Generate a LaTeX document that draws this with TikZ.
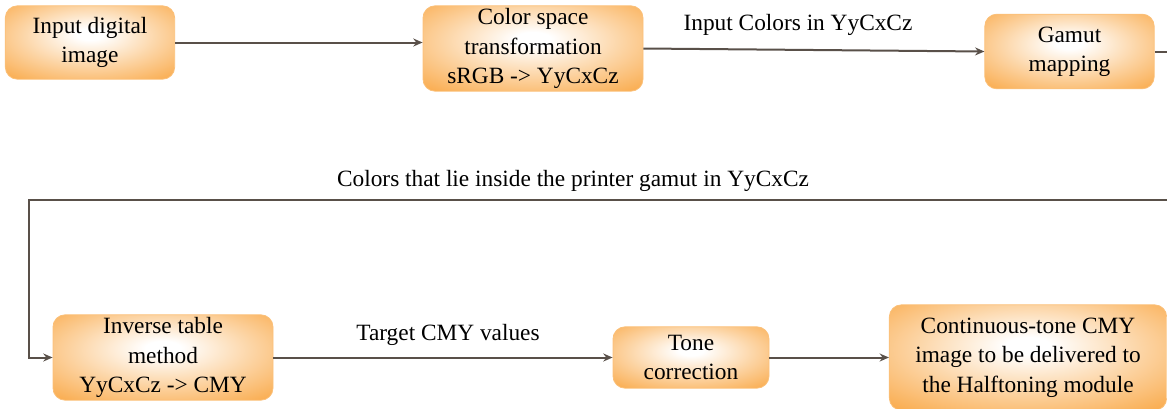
\documentclass[tikz,border=0pt]{standalone}
\usepackage{fontspec}
\setmainfont{Liberation Serif}
\usepackage{xcolor}
\usetikzlibrary{arrows.meta}

\definecolor{boxorange}{RGB}{248,150,32}
\definecolor{flowgray}{RGB}{89,80,73}
\pgfdeclareradialshading{boxglow}{\pgfpoint{0bp}{6bp}}{%
  color(0bp)=(white); color(4bp)=(white); color(21bp)=(boxorange!42);
  color(37bp)=(boxorange!80); color(50bp)=(boxorange); color(72bp)=(boxorange)}

\tikzset{
  procbox/.style={draw=boxorange!60, line width=0.6pt, rounded corners=9pt,
    shading=boxglow, align=center, inner sep=1pt,
    font=\fontsize{17.5}{22}\selectfont},
  flow/.style={draw=flowgray, line width=1.5pt,
    -{Stealth[length=7pt,width=6pt]}},
  flowlabel/.style={font=\fontsize{17.5}{22}\selectfont}
}

\begin{document}
\begin{tikzpicture}[x=0.75pt,y=-0.75pt]
	\useasboundingbox (0,0) rectangle (1167,408);

	% first row
	\node[procbox, minimum width=127pt, minimum height=55pt] (input) at (90,42.5)
		{Input digital\\image};
	\node[procbox, minimum width=165pt, minimum height=64pt] (cst) at (533,48.5)
		{Color space\\transformation\\sRGB -{}> YyCxCz};
	\node[procbox, minimum width=127pt, minimum height=56pt] (gamut) at (1069.5,51.5)
		{Gamut\\mapping};

	% second row
	\node[procbox, minimum width=165pt, minimum height=64pt] (inverse) at (163,357.5)
		{Inverse table\\method\\YyCxCz -{}> CMY};
	\node[procbox, minimum width=117pt, minimum height=46pt] (tone) at (691,357.5)
		{Tone\\correction};
	\node[procbox, minimum width=208pt, minimum height=79pt] (halftone) at (1028,357.5)
		{Continuous-tone CMY\\image to be delivered to\\the Halftoning module};

	% loop back from gamut mapping
	\coordinate (loopR) at (1195,200);
	\coordinate (loopL) at (29,200);

	\draw[flow] (input.east) -- (input.east -| cst.west);
	\draw[flow] (cst.east) -- (gamut.west);
	\draw[flow] (gamut.east) -| (loopR) -- (loopL) |- (inverse.west);
	\draw[flow] (inverse) -- (tone);
	\draw[flow] (tone) -- (halftone);

	\node[flowlabel] (lblyy) at (798,25) {Input Colors in YyCxCz};
	\node[flowlabel] (lblgamut) at (573,181) {Colors that lie inside the printer gamut in YyCxCz};
	\node[flowlabel] (lblcmy) at (448,335) {Target CMY values};
\end{tikzpicture}
\end{document}
